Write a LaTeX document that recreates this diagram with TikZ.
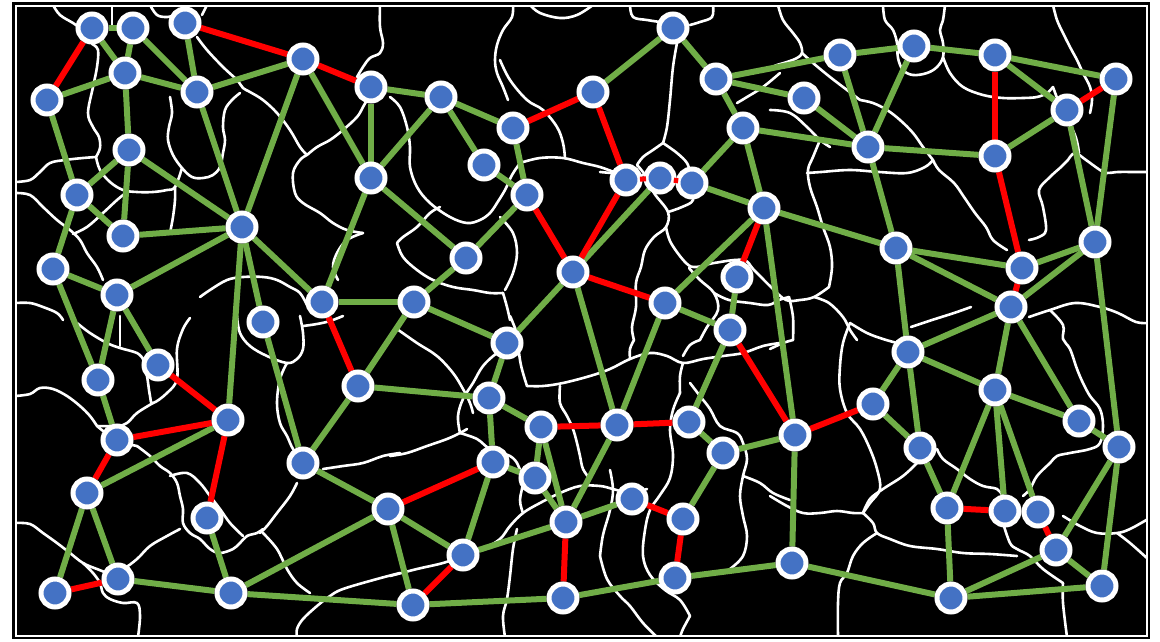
\documentclass[tikz,border=0pt]{standalone}
\definecolor{edgegreen}{RGB}{112,173,71}
\definecolor{edgered}{RGB}{255,0,0}
\definecolor{nodeblue}{RGB}{68,114,196}
\pgfdeclarelayer{walls}
\pgfdeclarelayer{links}
\pgfdeclarelayer{top}
\pgfsetlayers{walls,links,main,top}
\tikzset{
  vtx/.style={circle, fill=nodeblue, draw=white, line width=5pt, minimum size=28pt, inner sep=0pt},
  keep/.style={draw=edgegreen, line width=6pt},
  cut/.style={draw=edgered, line width=6pt},
  wall/.style={draw=white, line width=2.6pt, line cap=round, line join=round},
}
% one cell wall, drawn as a smooth curve through the given points
\newcommand\cellwall[1]{\draw[wall] plot[smooth, tension=0.6] coordinates {#1};}
\begin{document}
\begin{tikzpicture}[x=1pt,y=-1pt]
\useasboundingbox (0,0) rectangle (1160,641);
\begin{pgfonlayer}{walls}
\fill[white] (0,0) rectangle (1160,641);
\fill[black] (12,2) rectangle (1150,639);
\draw[white, line width=1.2pt] (16,6) rectangle (1147,636);
\begin{scope}
\clip (16,6) rectangle (1147,636);
% upper left
\cellwall{(53,5)(60,15)(73,23)(80,28)}
\cellwall{(112,5)(112,26)}
\cellwall{(150,5)(157,15)(167,17)(175,15)}
\cellwall{(207,5)(202,15)}
\cellwall{(92,44)(98,50)(97,67)(93,87)(88,113)(93,127)(99,137)(100,148)(96,157)}
\cellwall{(96,157)(83,158)(65,160)(50,163)(40,172)(30,180)(15,182)}
\cellwall{(96,157)(100,170)(110,182)(123,190)(137,192)(153,192)(167,190)(175,187)(182,168)}
\cellwall{(170,97)(172,113)(169,127)(168,140)(173,155)(182,168)(192,177)(203,178)(213,175)(220,167)(223,153)(225,140)(223,127)(225,110)(232,100)(240,93)}
\cellwall{(197,37)(207,50)(223,67)(237,80)(243,88)(250,92)(263,100)(277,113)(290,130)(300,147)(307,155)}
\cellwall{(307,155)(300,160)(293,173)(295,193)(303,203)(320,213)(333,223)(347,230)(363,233)}
\cellwall{(307,155)(317,147)(330,140)(343,130)(357,117)(363,107)(367,100)}
\cellwall{(380,5)(380,27)(383,43)(380,53)(370,58)(363,67)(357,77)}
\cellwall{(363,233)(347,240)(337,253)(333,267)(338,280)}
\cellwall{(15,193)(30,195)(43,207)(57,220)(70,230)(80,240)(87,253)(97,267)(103,280)}
\cellwall{(73,234)(87,227)(103,213)(117,200)(127,192)}
\cellwall{(15,303)(30,303)(43,307)(57,313)(63,320)}
\cellwall{(200,297)(210,290)(227,280)(243,277)(263,277)(277,280)(290,287)(300,293)(307,305)}
\cellwall{(175,187)(175,200)(173,217)(170,233)}
% upper middle
\cellwall{(530,5)(540,13)(560,18)(577,15)(593,5)}
\cellwall{(513,5)(512,17)(503,30)(497,45)(495,60)(497,73)(503,87)(508,100)}
\cellwall{(630,5)(633,17)(647,20)(660,22)}
\cellwall{(713,5)(712,17)(700,22)(690,25)}
\cellwall{(677,43)(673,67)(670,100)(667,127)(663,143)}
\cellwall{(663,143)(653,150)(643,157)(637,165)}
\cellwall{(663,143)(677,153)(687,163)(690,173)}
\cellwall{(600,172)(611,173)}
\cellwall{(520,163)(540,158)(563,158)(583,163)(600,167)(617,173)(633,177)(643,175)}
\cellwall{(390,97)(400,107)(407,127)(410,147)(410,167)(417,187)(430,203)(450,217)(467,223)(480,220)(490,213)(497,203)}
\cellwall{(497,203)(505,190)(512,175)(520,163)}
\cellwall{(440,207)(430,213)(417,227)(403,237)(397,243)}
\cellwall{(397,243)(403,257)(417,270)(433,280)(453,287)(473,290)(490,293)(503,293)}
\cellwall{(503,293)(507,307)(510,320)}
\cellwall{(500,217)(513,233)(517,253)(513,273)(505,290)}
\cellwall{(637,165)(645,175)(654,193)(668,212)(666,227)(654,237)(645,250)(641,267)(636,283)(636,307)(632,327)(634,340)}
\cellwall{(668,212)(682,207)(693,200)(690,185)}
\cellwall{(666,227)(671,243)(686,263)(696,267)(714,263)(743,260)(754,270)(771,287)(786,300)(800,300)(814,297)(829,287)}
\cellwall{(689,268)(700,280)(714,293)(718,310)(707,327)(700,340)}
\cellwall{(714,293)(729,300)(750,303)(768,305)(779,300)(789,297)}
\cellwall{(814,297)(829,303)(843,317)(850,330)(857,340)}
\cellwall{(789,297)(793,317)(793,340)}
\cellwall{(780,73)(763,87)(747,97)(737,103)}
\cellwall{(500,60)(510,80)(527,100)(543,110)(557,127)(563,143)(565,158)}
% upper right
\cellwall{(778,5)(783,20)(793,33)(800,43)(802,53)(797,58)(787,62)(777,65)(770,68)}
\cellwall{(802,53)(813,63)(830,77)(847,90)(860,100)}
\cellwall{(883,5)(885,20)(893,30)(897,43)(898,58)(903,70)(913,75)(927,73)(937,67)(943,57)(943,43)(940,30)(943,20)(945,5)}
\cellwall{(943,57)(950,73)(963,87)(983,95)(1003,98)(1023,98)(1037,97)(1047,93)(1053,87)}
\cellwall{(1053,5)(1057,20)(1063,33)(1070,47)(1077,60)(1083,73)(1090,87)(1092,100)(1090,113)}
\cellwall{(770,110)(790,113)(807,127)(820,140)(830,147)}
\cellwall{(820,140)(813,157)(808,170)(810,187)(817,207)(823,227)(830,247)(832,267)(829,287)}
\cellwall{(807,173)(821,172)(850,170)(879,172)(907,173)(925,167)(933,160)}
\cellwall{(933,160)(939,170)(954,183)(964,197)(975,213)(986,227)(993,240)(1007,250)}
\cellwall{(933,160)(923,147)(913,133)(900,120)(887,110)(873,103)(860,100)}
\cellwall{(1068,160)(1075,153)(1086,160)(1100,170)(1107,173)(1118,172)(1136,172)(1148,172)}
\cellwall{(1068,160)(1061,167)(1050,177)(1039,190)(1043,207)(1046,230)(1039,237)(1029,240)}
\cellwall{(1053,87)(1062,110)(1075,135)(1079,153)}
\cellwall{(911,327)(932,320)(954,313)(971,307)}
\cellwall{(1029,317)(1050,310)(1075,303)(1100,307)(1118,313)(1136,322)(1148,323)}
% lower left
\cellwall{(15,396)(30,394)(40,388)(53,389)(67,396)(80,406)(90,416)(97,426)}
\cellwall{(77,323)(90,333)(107,343)(120,348)(137,353)(143,359)}
\cellwall{(120,316)(120,346)}
\cellwall{(143,359)(147,376)(150,396)(153,403)(167,393)(177,379)(177,349)(183,329)(190,318)}
\cellwall{(153,403)(137,413)(127,423)(117,426)(97,426)}
\cellwall{(137,446)(150,456)(160,466)(170,473)(177,483)(180,496)(183,509)(183,523)(190,533)(200,539)(210,549)(220,553)(233,549)(240,543)(247,536)(257,533)(263,529)}
\cellwall{(170,476)(187,473)(200,483)(210,496)(220,509)(230,523)(243,536)}
\cellwall{(237,316)(240,333)(250,346)(267,356)(287,363)(297,359)(303,349)(303,333)(300,316)}
\cellwall{(303,326)(317,324)(330,321)(343,316)}
\cellwall{(287,363)(280,379)(277,403)(280,423)(287,436)(293,449)(303,463)}
\cellwall{(323,469)(343,466)(363,463)(383,456)(400,453)}
\cellwall{(297,483)(290,496)(277,513)(267,526)(260,533)}
\cellwall{(263,533)(277,549)(287,569)(297,583)(310,593)}
\cellwall{(400,573)(377,579)(343,589)(330,596)(317,606)(303,619)(297,629)(297,637)}
\cellwall{(15,523)(30,524)(43,533)(57,543)(70,553)(83,563)(97,569)(110,573)(123,569)(137,559)(150,546)(167,536)(180,529)}
\cellwall{(83,563)(93,573)(100,583)(103,593)(110,599)(123,603)(137,603)(140,616)(138,637)}
\cellwall{(97,426)(110,436)(125,443)(137,446)}
% lower middle
\cellwall{(397,329)(417,343)(437,356)(453,373)(463,389)(470,403)(473,413)}
\cellwall{(390,456)(407,453)(427,446)(447,439)(460,433)(467,429)}
\cellwall{(460,433)(477,439)(490,449)(510,456)(517,463)}
\cellwall{(460,433)(458,416)(463,399)(473,383)(483,366)(497,353)(510,346)(517,336)(513,323)(510,316)}
\cellwall{(517,336)(520,360)(523,373)(527,386)}
\cellwall{(527,386)(543,386)(563,383)(590,376)(610,369)(630,359)(650,353)(667,356)(683,363)(703,359)(723,356)(743,353)(763,346)(780,343)}
\cellwall{(560,386)(560,403)(567,416)(573,429)(577,443)(580,456)(583,469)(590,479)}
\cellwall{(634,340)(630,349)(630,359)}
\cellwall{(700,340)(690,345)(683,356)}
\cellwall{(683,363)(680,376)(680,393)}
\cellwall{(690,383)(700,396)(710,409)(720,426)(737,433)(743,443)(747,459)(743,476)(740,496)(743,516)(747,536)(743,556)(730,569)}
\cellwall{(517,529)(513,549)(510,576)(507,599)(503,616)(505,637)}
\cellwall{(600,556)(607,579)(620,596)(630,606)(643,623)(657,637)}
\cellwall{(690,616)(683,629)(680,637)}
\cellwall{(390,576)(417,569)(443,563)(463,556)(483,549)(500,539)(510,526)(523,513)(540,503)(560,493)(580,486)(600,486)(613,489)(630,493)(647,489)}
\cellwall{(610,470)(613,490)(610,510)(603,535)(600,556)}
\cellwall{(680,393)(673,410)(670,430)(673,455)(670,478)(660,495)(650,510)(645,530)(643,556)(650,575)(665,590)(680,600)(690,616)}
\cellwall{(743,476)(760,483)(773,493)(790,500)}
\cellwall{(517,463)(523,480)(520,500)(523,513)}
% lower right
\cellwall{(770,349)(783,343)(793,340)}
\cellwall{(850,323)(843,343)(840,366)(840,389)(847,413)(860,429)(870,449)(877,469)(880,489)(870,503)(863,513)}
\cellwall{(850,323)(867,333)(883,339)(897,343)}
\cellwall{(770,496)(787,506)(803,513)(820,513)(837,511)(853,513)(863,513)}
\cellwall{(863,513)(873,523)(877,533)(890,539)(910,546)(937,549)(963,553)(990,554)(1017,556)}
\cellwall{(877,533)(863,543)(853,556)(847,573)(840,583)(838,603)(838,637)}
\cellwall{(1063,583)(1063,603)(1067,637)}
\cellwall{(1050,310)(1063,325)(1063,339)(1070,349)(1077,369)(1083,383)(1090,396)(1100,409)(1103,426)(1100,443)(1090,449)(1070,453)(1057,456)(1050,463)(1037,476)(1030,489)(1023,496)}
\cellwall{(937,449)(943,459)(957,469)(970,479)(983,486)(997,489)(1003,496)(1010,503)}
\cellwall{(917,463)(903,476)(883,489)(870,499)(863,513)}
\cellwall{(1063,516)(1080,526)(1097,533)(1117,533)(1130,529)(1148,519)}
\cellwall{(1117,533)(1130,543)(1148,559)}
\cellwall{(1003,523)(1010,543)(1017,549)(1030,556)(1043,569)(1063,583)}
\end{scope}
\end{pgfonlayer}

% vertices
\foreach \n/\x/\y in {
 a1/92/28, a2/133/28, a3/185/23, a4/303/59, a5/371/87, a6/125/73, a7/197/92,
 a8/47/100, a9/129/150, a10/77/195, a11/123/236, a12/242/227, a13/371/178,
 a14/53/269, a15/117/295, a16/322/302, a17/263/322,
 b1/673/28, b2/441/97, b3/513/128, b4/593/92, b5/484/165, b6/527/195,
 b7/716/79, b8/743/128, b9/626/180, b10/660/178, b11/692/183, b12/764/208,
 b13/466/258, b14/573/272, b15/665/303, b16/737/277, b17/414/302,
 c1/840/55, c2/914/46, c3/995/55, c4/1116/79, c5/804/98, c6/1067/110,
 c7/868/147, c8/995/156, c10/896/248, c11/1095/242, c12/1022/268, c13/1011/307,
 d1/98/380, d2/158/365, d4/117/440, d5/228/420, d6/87/493, d7/207/518,
 d8/303/463, d9/358/386, d10/388/509, d11/55/593, d12/118/579, d13/231/593,
 e1/507/343, e2/489/398, e3/541/427, e4/617/425, e5/689/422, e6/730/330,
 e7/493/462, e8/535/478, e10/463/555, e11/566/522, e12/632/499, e13/683/519,
 e14/723/453, e15/413/605, e16/563/598, e17/675/578,
 f2/908/352, f3/995/390, f4/873/404, f5/795/435, f6/1079/421, f7/920/448,
 f8/1119/447, f9/947/508, f10/1005/511, f11/1038/512, f12/1056/550,
 f13/792/563, f14/951/598, f15/1102/586}
 \node[vtx] (\n) at (\x,\y) {};

\begin{pgfonlayer}{links}
% kept links
\foreach \a/\b in {
 a1/a2, a1/a6, a2/a6, a2/a7, a3/a7, a4/a7, a6/a8, a6/a7, a6/a9, a8/a10,
 a9/a10, a9/a11, a9/a12, a10/a11, a10/a14, a11/a12, a7/a12, a4/a12, a4/a13,
 a5/a13, a5/b2, b2/a13, a13/b13, a13/a16, a12/a15, a12/a16, a12/a17, a12/d5,
 a14/a15, a15/d1, a15/d2, a14/d1, a16/b17,
 b2/b3, b2/b5, b3/b6, b5/b6, b6/b13, b4/b1, b10/b14, b11/b8, b11/b12,
 b1/b7, b7/c1, b7/b8, b7/c5, b8/c7, b8/b12, b12/b15, b15/e6, b16/e6,
 b14/e1, b14/e4, b13/b17, b17/e1, b17/d9, b15/e4,
 c1/c2, c1/c7, c2/c7, c2/c3, c3/c4, c3/c6, c6/c8, c5/c7, c7/c8, c7/c10,
 c6/c11, c4/c11, c11/c12, c11/c13, b12/c10, c10/c12, c10/c13,
 c13/f2, c13/f3, c13/f6, c10/f2, c11/f8, b12/f5,
 f2/f4, f2/f7, f2/f3, f3/f6, f3/f9, f3/f10, f3/f11, f6/f8, f4/f7,
 f5/e14, f5/f13, f7/f9, f9/f14, f8/f12, f8/f15, f12/f15, f12/f14,
 f14/f15, f13/f14, f13/e17,
 d1/d4, d6/d5, d6/d11, d6/d12, d12/d13, d7/d13, d13/d10, d13/e15,
 a17/d8, d9/d8, d9/e2, d8/d10,
 e1/e2, e2/e7, e2/e3, e3/e8, e3/e11, e7/e8, e7/e10, e8/e11, e4/e11,
 e11/e12, e13/e14, e5/e14, e5/e6, e11/e10, e10/d10, d10/e15,
 e15/e16, e16/e17}
 \draw[keep] (\a) -- (\b);
% cut links
\foreach \a/\b in {
 a1/a8, a3/a4, a4/a5, a16/d9, b3/b4, b6/b14, b4/b9,
 b9/b14, b12/b16, b14/b15, c3/c8, c6/c4, c8/c12, c12/c13, f4/f5, e6/f5,
 f9/f10, f11/f12, d2/d5, d4/d5, d4/d6, d5/d7, d11/d12, d10/e7,
 e3/e4, e4/e5, e12/e13, e13/e17, e11/e16, e10/e15}
 \draw[cut] (\a) -- (\b);
\end{pgfonlayer}
% cut links between touching vertices show as short stubs between the rings
\begin{pgfonlayer}{top}
\foreach \a/\b in {b9/b10, b10/b11}
 \draw[cut, line width=5pt, shorten <=14pt, shorten >=14pt] (\a.center) -- (\b.center);
\end{pgfonlayer}
\end{tikzpicture}
\end{document}
